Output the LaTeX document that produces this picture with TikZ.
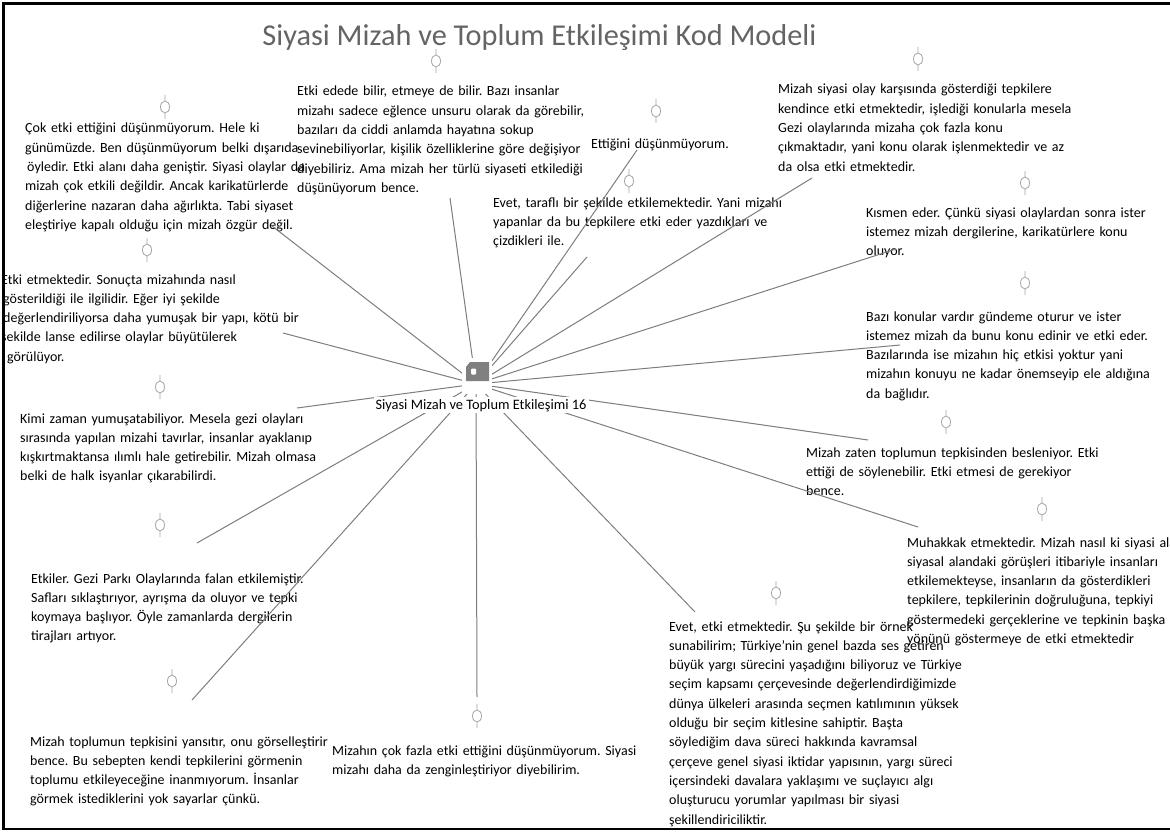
\documentclass[tikz,border=0pt]{standalone}
\usepackage{fontspec}
\setmainfont{Carlito}
\definecolor{linkgray}{RGB}{125,125,125}
\definecolor{portgray}{RGB}{165,165,165}
\definecolor{titlegray}{RGB}{100,100,100}
\definecolor{taggray}{RGB}{128,128,128}
\frenchspacing

\begin{document}
\begin{tikzpicture}[x=1pt,y=-1pt,
 memo/.style={anchor=base west,align=left,text width=340pt,inner sep=0pt,font=\fontsize{14}{19.3}\selectfont},
 link/.style={draw=linkgray,line width=1pt},
 port/.style={draw=portgray,line width=0.8pt}]
\useasboundingbox (0,0) rectangle (1170,832);
\node[anchor=base,text=titlegray,font=\fontsize{30.3}{36}\selectfont] (title) at (539.5,46) {Siyasi Mizah ve Toplum Etkileşimi Kod Modeli};
\begin{scope}
\clip (5,5) rectangle (1170,827);
\node[memo] (A) at (25,133) {Çok etki ettiğini düşünmüyorum. Hele ki\\günümüzde. Ben düşünmüyorum belki dışarıda\\\hspace*{2pt}öyledir. Etki alanı daha geniştir. Siyasi olaylar da\\mizah çok etkili değildir. Ancak karikatürlerde\\diğerlerine nazaran daha ağırlıkta. Tabi siyaset\\eleştiriye kapalı olduğu için mizah özgür değil.};
\node[memo] (B) at (297,96) {Etki edede bilir, etmeye de bilir. Bazı insanlar\\mizahı sadece eğlence unsuru olarak da görebilir,\\bazıları da ciddi anlamda hayatına sokup\\sevinebiliyorlar, kişilik özelliklerine göre değişiyor\\diyebiliriz. Ama mizah her türlü siyaseti etkilediği\\düşünüyorum bence.};
\node[memo] (C) at (591,149) {Ettiğini düşünmüyorum.};
\node[memo] (D) at (493,207) {Evet, taraflı bir şekilde etkilemektedir. Yani mizahı\\yapanlar da bu tepkilere etki eder yazdıkları ve\\çizdikleri ile.};
\node[memo] (E) at (778,94) {Mizah siyasi olay karşısında gösterdiği tepkilere\\kendince etki etmektedir, işlediği konularla mesela\\Gezi olaylarında mizaha çok fazla konu\\çıkmaktadır, yani konu olarak işlenmektedir ve az\\da olsa etki etmektedir.};
\node[memo] (F) at (866,217) {Kısmen eder. Çünkü siyasi olaylardan sonra ister\\istemez mizah dergilerine, karikatürlere konu\\oluyor.};
\node[memo] (G) at (866,321) {Bazı konular vardır gündeme oturur ve ister\\istemez mizah da bunu konu edinir ve etki eder.\\Bazılarında ise mizahın hiç etkisi yoktur yani\\mizahın konuyu ne kadar önemseyip ele aldığına\\da bağlıdır.};
\node[memo] (H) at (806,457) {Mizah zaten toplumun tepkisinden besleniyor. Etki\\ettiği de söylenebilir. Etki etmesi de gerekiyor\\bence.};
\node[memo] (I) at (907,547) {Muhakkak etmektedir. Mizah nasıl ki siyasi alan\\siyasal alandaki görüşleri itibariyle insanları\\etkilemekteyse, insanların da gösterdikleri\\tepkilere, tepkilerinin doğruluğuna, tepkiyi\\göstermedeki gerçeklerine ve tepkinin başka bi\\yönünü göstermeye de etki etmektedir};
\node[memo] (J) at (669,631) {Evet, etki etmektedir. Şu şekilde bir örnek\\sunabilirim; Türkiye’nin genel bazda ses getiren\\büyük yargı sürecini yaşadığını biliyoruz ve Türkiye\\seçim kapsamı çerçevesinde değerlendirdiğimizde\\dünya ülkeleri arasında seçmen katılımının yüksek\\olduğu bir seçim kitlesine sahiptir. Başta\\söylediğim dava süreci hakkında kavramsal\\çerçeve genel siyasi iktidar yapısının, yargı süreci\\içersindeki davalara yaklaşımı ve suçlayıcı algı\\oluşturucu yorumlar yapılması bir siyasi\\şekillendiriciliktir.};
\node[memo] (K) at (332,755) {Mizahın çok fazla etki ettiğini düşünmüyorum. Siyasi\\mizahı daha da zenginleştiriyor diyebilirim.};
\node[memo] (L) at (30,746) {Mizah toplumun tepkisini yansıtır, onu görselleştirir\\bence. Bu sebepten kendi tepkilerini görmenin\\toplumu etkileyeceğine inanmıyorum. İnsanlar\\görmek istediklerini yok sayarlar çünkü.};
\node[memo] (M) at (31,583) {Etkiler. Gezi Parkı Olaylarında falan etkilemiştir.\\Safları sıklaştırıyor, ayrışma da oluyor ve tepki\\koymaya başlıyor. Öyle zamanlarda dergilerin\\tirajları artıyor.};
\node[memo] (N) at (20,423) {Kimi zaman yumuşatabiliyor. Mesela gezi olayları\\sırasında yapılan mizahi tavırlar, insanlar ayaklanıp\\kışkırtmaktansa ılımlı hale getirebilir. Mizah olmasa\\belki de halk isyanlar çıkarabilirdi.};
\node[memo] (O) at (1,284) {Etki etmektedir. Sonuçta mizahında nasıl\\\hspace*{2pt}gösterildiği ile ilgilidir. Eğer iyi şekilde\\\hspace*{2pt}değerlendiriliyorsa daha yumuşak bir yapı, kötü bir\\şekilde lanse edilirse olaylar büyütülerek\\\hspace*{6pt}görülüyor.};
\end{scope}
\foreach \px/\py in {165/107,436/61,656/111,629/181,918/59,1025/183,1025/283,946/422,1042/509,776/593,477/716,172/681,160/525,160/387,147/250}
  \draw[port] (\px,\py-12) -- (\px,\py-6) (\px,\py+6) -- (\px,\py+12) (\px,\py) ellipse (4.5 and 6);
\coordinate (hub) at (476,384);
\coordinate (eA) at (272,226);
\coordinate (eB) at (450,198);
\coordinate (eC) at (637,150);
\coordinate (eD) at (587,257);
\coordinate (eE) at (812,178);
\coordinate (eF) at (896,249);
\coordinate (eG) at (900,345);
\coordinate (eH) at (868,440);
\coordinate (eI) at (918,527);
\coordinate (eJ) at (695,612);
\coordinate (eK) at (477,697);
\coordinate (eL) at (192,700);
\coordinate (eM) at (197,543);
\coordinate (eN) at (297,408);
\coordinate (eO) at (283,333);
\foreach \n in {A,B,C,D,E,F,G,H,I,J,K,L,M,N,O}
  \draw[link] (hub) -- (e\n);
\node[fill=white,minimum width=30pt,minimum height=36pt,inner sep=0pt] (hubicon) at (477,376) {};
\fill[taggray] (470,362) -- (489,362) -- (489,381) -- (466,381) -- (466,367) -- cycle;
\fill[white,rounded corners=1pt] (471,368.5) rectangle (476,374.5);
\node[anchor=base,fill=white,inner sep=2pt,font=\fontsize{14.4}{19.3}\selectfont] (hublabel) at (481,409) {Siyasi Mizah ve Toplum Etkileşimi 16};
\draw[line width=2.5pt] (1170,3.5) -- (3.5,3.5) -- (3.5,829) -- (1170,829);
\end{tikzpicture}
\end{document}
